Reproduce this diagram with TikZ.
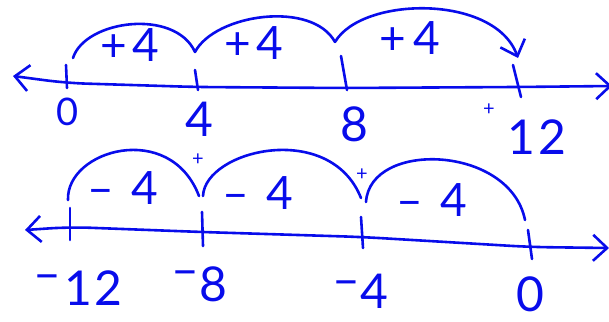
\documentclass[tikz,border=0pt]{standalone}
\usepackage{fontspec}
\setmainfont{Lato}
\usetikzlibrary{arrows.meta}
\definecolor{ink}{RGB}{8,12,235}
\begin{document}
\begin{tikzpicture}[x=1pt,y=-1pt,line cap=round,line join=round,
  pen/.style={draw=ink,line width=2.6pt},
  lbl/.style={text=ink,inner sep=0pt,font=\fontsize{46}{46}\selectfont},
  numlbl/.style={text=ink,inner sep=0pt,font=\fontsize{48}{48}\selectfont},
  sml/.style={text=ink,inner sep=0pt,font=\fontsize{20}{20}\selectfont},
  barb/.tip={Straight Barb[length=14pt,width=26pt]}]
\useasboundingbox (0,0) rectangle (609,321);
% ---------- top number line ----------
\coordinate (tL) at (13,76);
\coordinate (tR) at (612,86);
\coordinate (ta0) at (66,83);
\coordinate (ta4) at (196,87);
\coordinate (ta8) at (344,88);
\coordinate (ta12) at (517,87);
\draw[pen,barb-barb,rounded corners=20pt] (tL) -- (ta0) -- (ta4) -- (ta8) -- (ta12) -- (tR);
% ticks
\coordinate (tt0a) at (66,65); \coordinate (tt0b) at (67,88);
\coordinate (tt4a) at (195,70); \coordinate (tt4b) at (198,90);
\coordinate (tt8a) at (341,56); \coordinate (tt8b) at (347,90);
\coordinate (tt12a) at (513,65); \coordinate (tt12b) at (521,97);
\draw[pen] (tt0a) -- (tt0b);
\draw[pen] (tt4a) -- (tt4b);
\draw[pen] (tt8a) -- (tt8b);
\draw[pen] (tt12a) -- (tt12b);
% arcs
\coordinate (tp1) at (73,58);
\coordinate (tp2) at (195,52);
\coordinate (tp3) at (335,42);
\coordinate (tp4) at (518,58);
\draw[pen] (tp1) .. controls (85,20) and (175,8) .. (tp2);
\draw[pen] (tp2) .. controls (215,14) and (312,0) .. (tp3);
\draw[pen,-barb] (tp3) .. controls (362,-4) and (495,-6) .. (tp4);
% labels
\node[numlbl,font=\fontsize{38}{38}\selectfont] (n0) at (68,112) {0};
\node[numlbl] (n4) at (199,119) {4};
\node[numlbl] (n8) at (354,124) {8};
\node[numlbl] (n12) at (537,137) {1\hspace{4pt}2};
\node[sml] (p12) at (489,110) {+};
\node[lbl] (j1) at (130,45) {+\hspace{5pt}4};
\node[lbl] (j2) at (254,43) {+\hspace{5pt}4};
\node[lbl] (j3) at (410,38) {+\hspace{8pt}4};
% ---------- bottom number line ----------
\coordinate (bL) at (25,230);
\coordinate (bR) at (609,248);
\coordinate (ba12) at (70,227);
\coordinate (ba8) at (202,232);
\coordinate (ba4) at (362,237);
\coordinate (ba0) at (530,247);
\draw[pen,barb-barb,rounded corners=20pt] (bL) -- (ba12) -- (ba8) -- (ba4) -- (ba0) -- (bR);
\coordinate (bt12a) at (70,208); \coordinate (bt12b) at (70,240);
\coordinate (bt8a) at (202,212); \coordinate (bt8b) at (203,246);
\coordinate (bt4a) at (361,217); \coordinate (bt4b) at (363,248);
\coordinate (bt0a) at (528,230); \coordinate (bt0b) at (532,259);
\draw[pen] (bt12a) -- (bt12b);
\draw[pen] (bt8a) -- (bt8b);
\draw[pen] (bt4a) -- (bt4b);
\draw[pen] (bt0a) -- (bt0b);
% arcs
\coordinate (bp1) at (68,200);
\coordinate (bp2) at (199,196);
\coordinate (bp3) at (203,196);
\coordinate (bp4) at (361,198);
\coordinate (bp5) at (366,202);
\coordinate (bp6) at (525,220);
\draw[pen] (bp1) .. controls (66,150) and (170,120) .. (bp2);
\draw[pen] (bp3) .. controls (205,150) and (330,120) .. (bp4);
\draw[pen] (bp5) .. controls (370,140) and (510,145) .. (bp6);
% labels
\node[numlbl] (m12) at (78,288) {\raisebox{.3em}{–}\hspace{3pt}1\hspace{3pt}2};
\node[numlbl] (m8) at (199,284) {\raisebox{.3em}{–}8};
\node[numlbl] (m4) at (360,291) {\raisebox{.25em}{–}4};
\node[numlbl] (z0) at (530,294) {0};
\node[lbl] (k1) at (123,188) {–\hspace{18pt}4};
\node[lbl] (k2) at (258,193) {–\hspace{18pt}4};
\node[lbl] (k3) at (432,200) {–\hspace{18pt}4};
\node[sml] (q1) at (198,160) {+};
\node[sml] (q2) at (362,175) {+};
\end{tikzpicture}
\end{document}
